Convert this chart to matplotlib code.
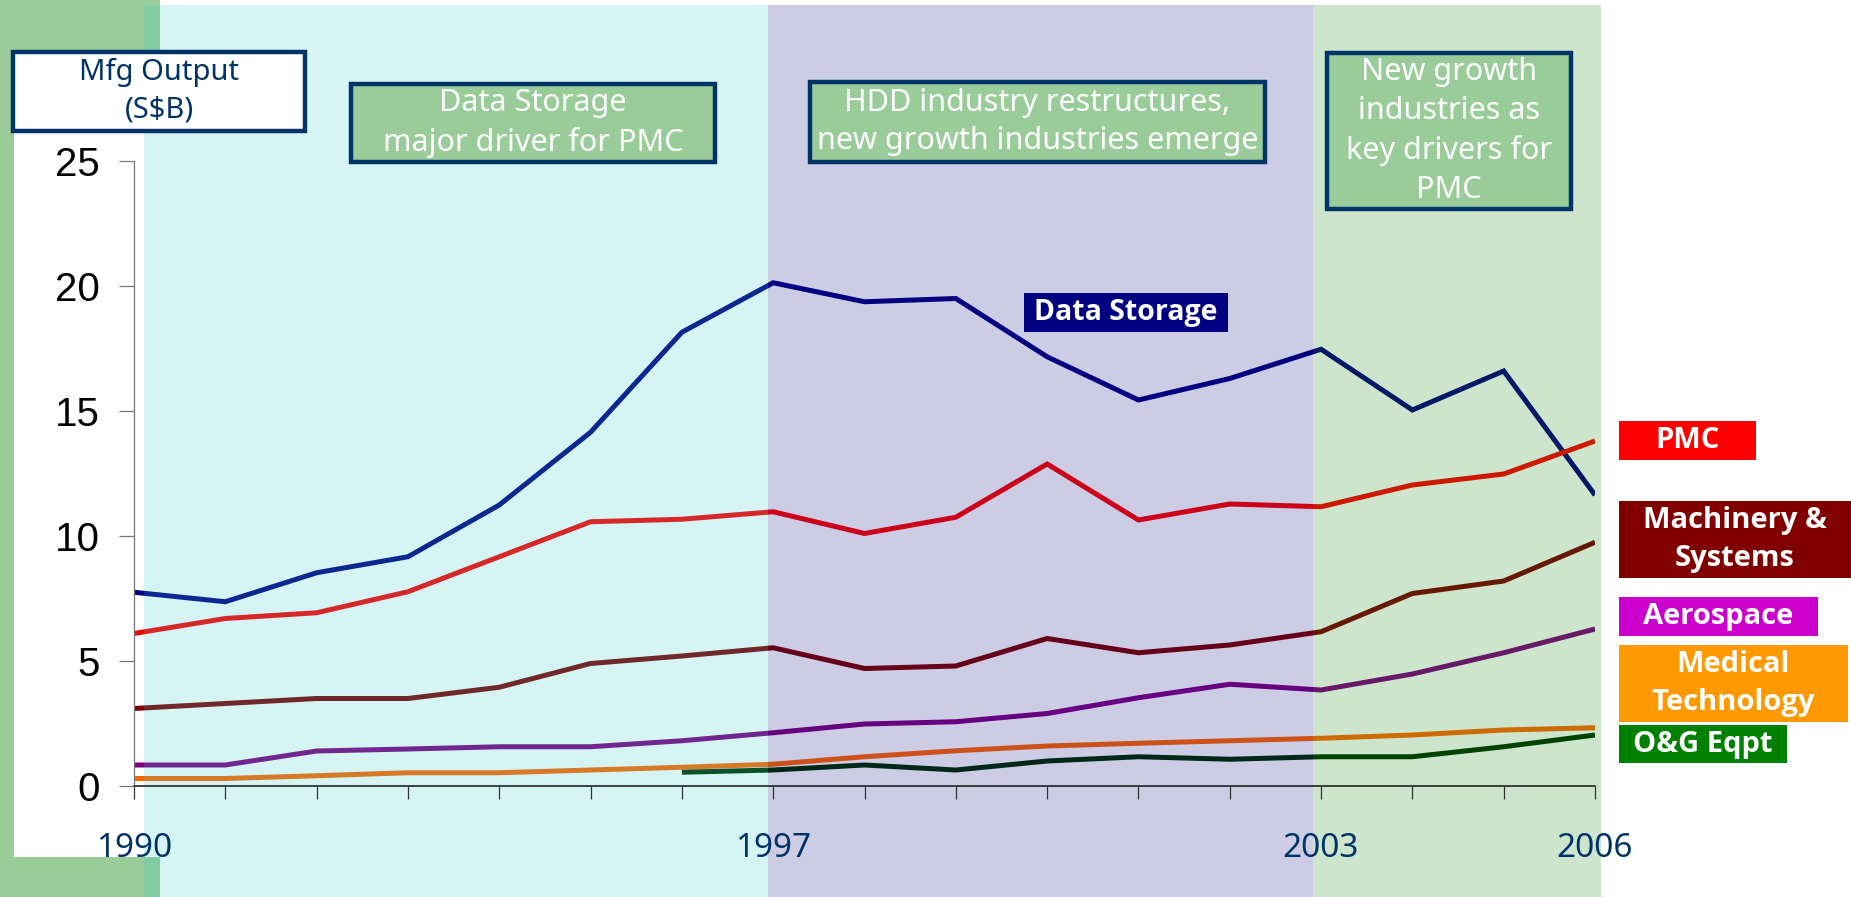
import numpy as np
import matplotlib

matplotlib.use("Agg")
from matplotlib import pyplot as plt
from matplotlib.patches import Rectangle

# data (S$ billion)
years = list(range(1990, 2007))
data_storage = [7.75, 7.37, 8.53, 9.17, 11.24, 14.15, 18.15, 20.13, 19.37, 19.5,
                17.17, 15.44, 16.3, 17.47, 15.04, 16.6, 11.64]
pmc = [6.1, 6.7, 6.93, 7.77, 9.17, 10.57, 10.67, 10.97, 10.1, 10.75,
       12.88, 10.64, 11.28, 11.17, 12.04, 12.48, 13.8]
machinery = [3.1, 3.3, 3.5, 3.5, 3.95, 4.9, 5.2, 5.53, 4.7, 4.8,
             5.9, 5.33, 5.64, 6.17, 7.7, 8.2, 9.75]
aerospace = [0.84, 0.84, 1.4, 1.48, 1.57, 1.57, 1.81, 2.13, 2.48, 2.57,
             2.9, 3.53, 4.07, 3.84, 4.48, 5.33, 6.28]
medical = [0.3, 0.3, 0.41, 0.53, 0.53, 0.64, 0.75, 0.87, 1.17, 1.41,
           1.6, 1.71, 1.81, 1.91, 2.04, 2.24, 2.33]
og_eqpt = [np.nan] * 6 + [0.55, 0.64, 0.84, 0.64, 1.0, 1.17, 1.07, 1.17, 1.17, 1.57, 2.04]

shown_years = [1990, 1997, 2003, 2006]
yticks = [0, 5, 10, 15, 20, 25]
period_notes = [
    "Data Storage\nmajor driver for PMC",
    "HDD industry restructures,\nnew growth industries emerge",
    "New growth\nindustries as\nkey drivers for\nPMC",
]
right_labels = ["PMC", "Machinery &\nSystems", "Aerospace", "Medical\nTechnology", "O&G Eqpt"]

# styles
line_colors = ["#000080", "#FF0000", "#800000", "#800080", "#FF6600", "#003300"]
label_faces = ["#FF0000", "#800000", "#CC00CC", "#FF9900", "#008000"]
band_colors = ["#33CCCC", "#000080", "#008000"]
band_edges = [1990.11, 1996.94, 2002.91, 2006.07]
navy = "#003366"
font = "Noto Sans"
bold_font = ["Open Sans", "DejaVu Sans"]

W, H = 1851, 897
fig = plt.figure(figsize=(W / 100, H / 100), dpi=100)


def px_rect(x0, y0, x1, y1, face, edge=None, lw=0, z=5):
    r = Rectangle((x0 / W, 1 - y1 / H), (x1 - x0) / W, (y1 - y0) / H,
                  transform=fig.transFigure, facecolor=face,
                  edgecolor=edge if edge else face, linewidth=lw, zorder=z)
    fig.add_artist(r)


def px_box(x0, y0, x1, y1, text, face, tcolor, size, weight="normal", edge=None, lw=0):
    px_rect(x0, y0, x1, y1, face, edge, lw, 5)
    fam = bold_font if weight == "bold" else font
    fig.text((x0 + x1) / 2 / W, 1 - (y0 + y1) / 2 / H, text, ha="center", va="center",
             color=tcolor, fontsize=size, fontweight=weight, family=fam,
             linespacing=1.38, zorder=6)


# background: green strip on the left and white chart area
px_rect(0, 0, 160, H, "#99CC99", z=-3)
px_rect(14, 52, 160, 857, "white", z=-2)

ax = fig.add_axes([134 / W, 1 - 786 / H, 1461 / W, 625 / H])
ax.patch.set_visible(False)
ax.set_axisbelow(False)

all_series = [data_storage, pmc, machinery, aerospace, medical, og_eqpt]
for vals, c in zip(all_series, line_colors):
    ax.plot(years, vals, color=c, lw=3.6, solid_joinstyle="miter",
            solid_capstyle="butt", zorder=2)

# translucent period bands over the lines
for i in range(3):
    ax.axvspan(band_edges[i], band_edges[i + 1], ymin=-0.178, ymax=1.25,
               color=band_colors[i], alpha=0.2, lw=0, zorder=2.2, clip_on=False)

ax.set_xlim(1990, 2006)
ax.set_ylim(0, 25)
ax.set_xticks(years)
ax.set_xticklabels([str(y) if y in shown_years else "" for y in years],
                   color=navy, fontsize=24, family=font)
ax.set_yticks(yticks)
ax.set_yticklabels([str(v) for v in yticks], fontsize=29, family="Liberation Sans")
ax.tick_params(axis="x", length=9.4, width=0.9, color="#333333", pad=24, direction="out")
ax.tick_params(axis="y", length=10.8, width=0.9, color="#777777", pad=14, direction="out")
ax.spines["top"].set_visible(False)
ax.spines["right"].set_visible(False)
ax.spines["left"].set_color("#777777")
ax.spines["left"].set_linewidth(0.9)
ax.spines["bottom"].set_color("#222222")
ax.spines["bottom"].set_linewidth(1.2)

# annotation boxes
px_box(13, 52, 305, 131, "Mfg Output\n(S$B)", "white", navy, 21, edge=navy, lw=3.2)
px_box(351, 84, 715, 162, period_notes[0], "#99CC99", "white", 22, edge=navy, lw=3.2)
px_box(810, 82, 1265, 162, period_notes[1], "#99CC99", "white", 22, edge=navy, lw=3.2)
px_box(1327, 53, 1571, 209, period_notes[2], "#99CC99", "white", 22, edge=navy, lw=3.2)

px_box(1024, 293, 1228, 332, "Data Storage", "#000080", "white", 20.5, "bold")

right_boxes = [(1619, 421, 1756, 460), (1619, 501, 1851, 578), (1619, 597, 1818, 636),
               (1619, 645, 1848, 722), (1619, 725, 1787, 763)]
for (x0, y0, x1, y1), txt, fc in zip(right_boxes, right_labels, label_faces):
    px_box(x0, y0, x1, y1, txt, fc, "white", 21, "bold")

fig.savefig("out.png", dpi=100)
